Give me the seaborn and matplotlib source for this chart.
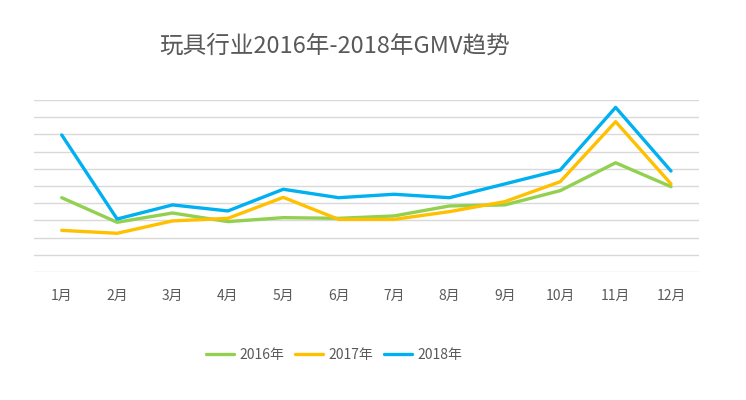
import pandas as pd
import seaborn as sns
import matplotlib.pyplot as plt

# values (no y scale shown; grid units)
months = ["1月", "2月", "3月", "4月", "5月", "6月", "7月", "8月", "9月", "10月", "11月", "12月"]
gmv_2016 = [4.32, 2.89, 3.43, 2.93, 3.16, 3.12, 3.26, 3.84, 3.90, 4.73, 6.35, 4.96]
gmv_2017 = [2.42, 2.25, 2.97, 3.12, 4.34, 3.06, 3.06, 3.51, 4.09, 5.25, 8.74, 5.12]
gmv_2018 = [7.97, 3.08, 3.90, 3.55, 4.81, 4.32, 4.52, 4.32, 5.12, 5.93, 9.57, 5.87]
years = ["2016年", "2017年", "2018年"]
colors = ["#92D050", "#FFC000", "#00B0F0"]

df = pd.DataFrame({"month": months * 3,
                   "gmv": gmv_2016 + gmv_2017 + gmv_2018,
                   "year": [y for y in years for _ in months]})
df["pos"] = list(range(len(months))) * 3

sns.set_theme(style="white")
plt.rcParams["font.family"] = ["Noto Sans CJK SC", "DejaVu Sans"]

fig = plt.figure(figsize=(7.46, 4), dpi=100)
ax = fig.add_axes([0.0456, 0.32, 0.891, 0.43])

sns.lineplot(data=df, x="pos", y="gmv", hue="year", palette=colors,
             linewidth=2.4, ax=ax, legend=False)

ax.set_xlim(-0.5, len(months) - 0.5)
ax.set_ylim(0, 10)
ax.set_yticks(range(0, 11))
ax.yaxis.grid(True, color="#D9D9D9", linewidth=1)
ax.set_axisbelow(True)
ax.set_yticklabels([])
ax.tick_params(axis="y", length=0)
ax.set_xticks(range(len(months)))
ax.set_xticklabels(months, color="#595959", fontsize=10)
ax.tick_params(axis="x", length=0, pad=12)
ax.set_xlabel(""); ax.set_ylabel("")
for s in ax.spines.values():
    s.set_visible(False)

fig.text(0.448, 0.885, "玩具行业2016年-2018年GMV趋势", ha="center", va="center",
         fontsize=17, color="#595959")

handles = [plt.Line2D([0], [0], color=c, linewidth=2.4) for c in colors]
fig.legend(handles, years, loc="center", bbox_to_anchor=(0.448, 0.112), ncol=3,
           frameon=False, fontsize=10, handlelength=2.0, columnspacing=0.8,
           handletextpad=0.4, labelcolor="#595959")

fig.savefig("out.png", dpi=100)
